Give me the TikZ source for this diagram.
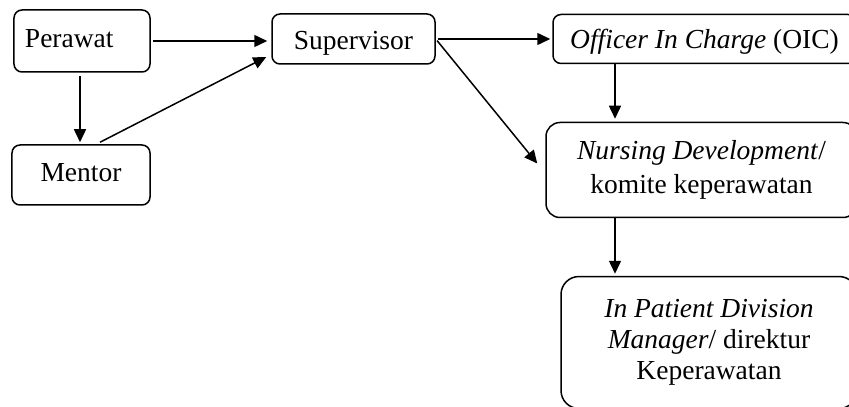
\documentclass[tikz,border=0pt]{standalone}
\usepackage{fontspec}
\setmainfont{Liberation Serif}
\usetikzlibrary{arrows.meta,positioning}

\begin{document}
\begin{tikzpicture}
            [node distance=67pt, line width=0.75pt, >={Triangle[length=6.5pt,width=6pt]},
             box node/.style={rectangle,draw,rounded corners=4pt,align=center,inner sep=0pt,
                              font=\fontsize{13.75}{16.5}\selectfont}]
            \useasboundingbox (-41pt,20.5pt) rectangle (383.5pt,-182.5pt);
            \node[box node, minimum width=68pt, minimum height=31pt, text width=57pt, align=left,
                  text height=9.5pt, text depth=2.5pt] (perawat) at (0,0) {Perawat};
            \node[box node, below of=perawat, xshift=-0.5pt, minimum width=69pt, minimum height=30pt,
                  text height=9.5pt, text depth=2.9pt] (mentor) {Mentor};
            \node[box node, right of=perawat, xshift=68.75pt, yshift=1pt, minimum width=81.5pt, minimum height=25pt,
                  text height=12pt, text depth=1pt] (supervisor) {Supervisor};
            \node[box node, right of=supervisor, xshift=108.5pt, minimum width=151.5pt, minimum height=24.5pt,
                  text height=10.5pt, text depth=1pt] (oic) {\textit{Officer In Charge} (OIC)};
            \node[box node, below of=oic, xshift=-1.5pt, yshift=1.5pt, minimum width=155.5pt, minimum height=47.5pt,
                  rounded corners=7pt, font=\fontsize{13.75}{17}\selectfont] (nursing) {\textit{Nursing Development}/\\komite keperawatan};
            \node[box node, below of=nursing, xshift=3.75pt, yshift=-19.25pt, minimum width=148pt, minimum height=66pt,
                  rounded corners=9pt, font=\fontsize{13.75}{15.5}\selectfont] (ipd) {\textit{In Patient Division}\\\textit{Manager}/ direktur\\Keperawatan};

            \draw[->, shorten <=1pt, shorten >=2pt] (perawat.east) -- (perawat.east -| supervisor.west);
            \draw[->, shorten <=1.5pt, shorten >=1pt] ([xshift=-1pt]perawat.south) -- ([xshift=-1pt]perawat.south |- mentor.north);
            \draw[->] ([xshift=9.5pt,yshift=1pt]mentor.north) -- ([xshift=-2.5pt,yshift=-9pt]supervisor.west);

            \draw[->, shorten <=1pt, shorten >=1pt] (supervisor.east) -- (supervisor.east -| oic.west);
            \draw[->, shorten <=1pt] (supervisor.east) -- ([xshift=-4pt,yshift=3.25pt]nursing.west);

            \draw[->, shorten >=1.5pt] ([xshift=-44.75pt]oic.south) -- ([xshift=-44.75pt]oic.south |- nursing.north);
            \draw[->, shorten >=1pt] ([xshift=-44.75pt]oic.south |- nursing.south) -- ([xshift=-44.75pt]oic.south |- ipd.north);
         \end{tikzpicture}
\end{document}
